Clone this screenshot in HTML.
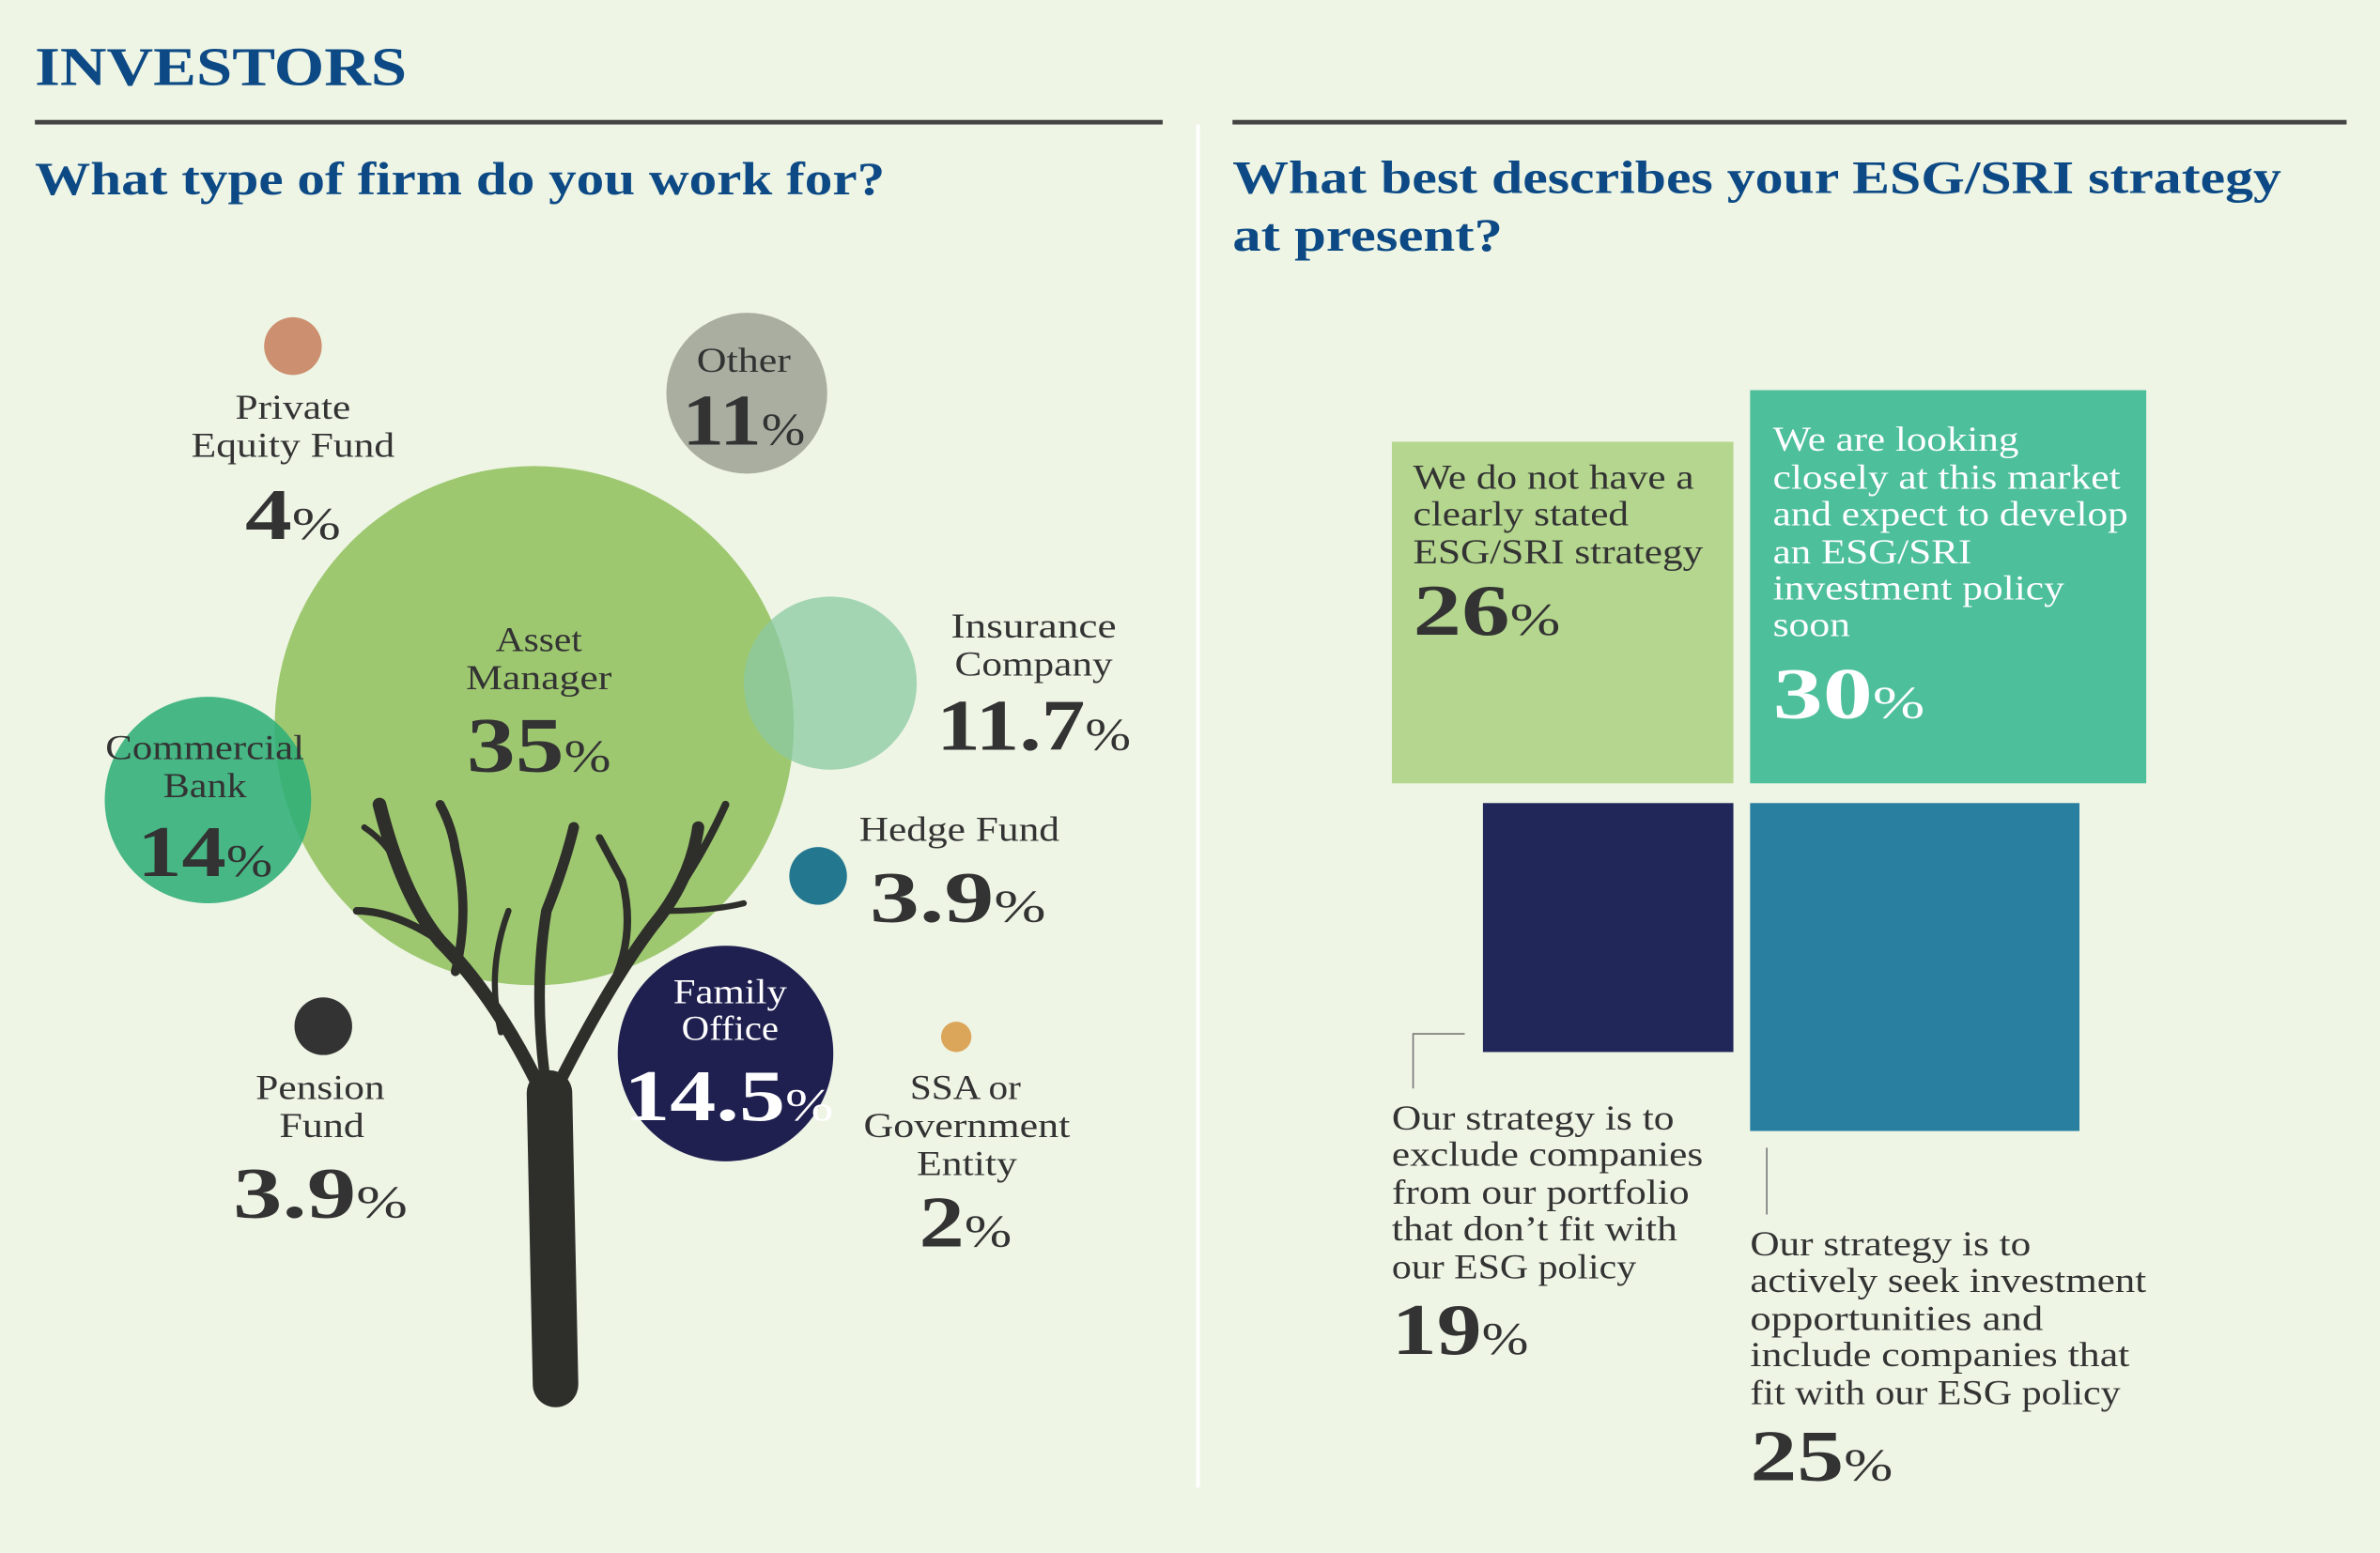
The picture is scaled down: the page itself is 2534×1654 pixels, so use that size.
<!DOCTYPE html>
<html><head><meta charset="utf-8"><style>
html,body{margin:0;padding:0;background:#eef5e5;}
svg{display:block}
text{font-family:"Liberation Serif",serif;fill:#333}
.t{font-size:23px}
.p{font-weight:bold;font-size:48px}
.pc{font-size:30px;font-weight:normal}
.h{fill:#0d4a85;font-weight:bold}
</style></head><body>
<svg width="2534" height="1654" viewBox="0 0 1568 1023" preserveAspectRatio="none" xmlns="http://www.w3.org/2000/svg">
<rect width="1568" height="1023" fill="#eef5e5"/>
<g lengthAdjust="spacingAndGlyphs">
<text x="23" y="56" class="h" font-size="36" textLength="245" lengthAdjust="spacingAndGlyphs">INVESTORS</text>
<text x="23" y="128" class="h" font-size="31" textLength="560" lengthAdjust="spacingAndGlyphs">What type of firm do you work for?</text>
<text x="812" y="127" class="h" font-size="31" textLength="691" lengthAdjust="spacingAndGlyphs">What best describes your ESG/SRI strategy</text>
<text x="812" y="165" class="h" font-size="31" textLength="178" lengthAdjust="spacingAndGlyphs">at present?</text>
</g>
<rect x="23" y="79" width="743" height="3" fill="#444"/>
<rect x="812" y="79" width="734" height="3" fill="#444"/>
<rect x="788" y="82" width="2.5" height="898" fill="#fff"/>

<!-- bubbles -->
<circle cx="193" cy="228" r="19" fill="#cc8f6f"/>
<circle cx="492" cy="259" r="53" fill="#a9aea1"/>
<circle cx="352" cy="478" r="171" fill="#8fbf5c" fill-opacity="0.85"/>
<circle cx="547" cy="450" r="57" fill="#8bcaa2" fill-opacity="0.75"/>
<circle cx="137" cy="527" r="68" fill="#2fae78" fill-opacity="0.88"/>
<circle cx="539" cy="577" r="19" fill="#23788f"/>
<circle cx="213" cy="676" r="19" fill="#333"/>
<circle cx="630" cy="683" r="10" fill="#dba65a"/>

<!-- tree -->
<g fill="none" stroke="#2e2e2a" stroke-linecap="round">
<path d="M366 912 L362 720" stroke-width="30"/>
<path d="M362 730 Q330 660 290 620 Q265 590 250 530" stroke-width="9"/>
<path d="M290 620 Q260 600 235 600" stroke-width="5"/>
<path d="M262 570 Q255 555 240 545" stroke-width="4"/>
<path d="M300 640 Q310 600 300 560 Q298 545 290 530" stroke-width="6"/>
<path d="M362 730 Q350 660 360 600 Q372 570 378 545" stroke-width="7"/>
<path d="M365 720 Q400 650 430 610 Q455 580 460 545" stroke-width="8"/>
<path d="M430 610 Q460 570 478 530" stroke-width="5"/>
<path d="M400 655 Q420 620 410 580 Q402 565 395 552" stroke-width="5"/>
<path d="M440 600 Q470 600 490 595" stroke-width="4"/>
<path d="M330 680 Q320 640 335 600" stroke-width="4"/>
</g>
<circle cx="478" cy="694" r="71" fill="#1f2050"/>

<!-- labels -->
<g class="t" text-anchor="middle">
<text x="193" y="276" textLength="76" lengthAdjust="spacingAndGlyphs">Private</text><text x="193" y="301" textLength="134" lengthAdjust="spacingAndGlyphs">Equity Fund</text>
<text x="490" y="245" textLength="62" lengthAdjust="spacingAndGlyphs">Other</text>
<text x="355" y="429" textLength="57" lengthAdjust="spacingAndGlyphs">Asset</text><text x="355" y="454" textLength="96" lengthAdjust="spacingAndGlyphs">Manager</text>
<text x="681" y="420" textLength="109" lengthAdjust="spacingAndGlyphs">Insurance</text><text x="681" y="445" textLength="104" lengthAdjust="spacingAndGlyphs">Company</text>
<text x="135" y="500" textLength="131" lengthAdjust="spacingAndGlyphs">Commercial</text><text x="135" y="525" textLength="55" lengthAdjust="spacingAndGlyphs">Bank</text>
<text x="632" y="554" textLength="132" lengthAdjust="spacingAndGlyphs">Hedge Fund</text>
<text x="481" y="661" style="fill:#fff" textLength="75" lengthAdjust="spacingAndGlyphs">Family</text><text x="481" y="685" style="fill:#fff" textLength="64" lengthAdjust="spacingAndGlyphs">Office</text>
<text x="211" y="724" textLength="85" lengthAdjust="spacingAndGlyphs">Pension</text><text x="212" y="749" textLength="56" lengthAdjust="spacingAndGlyphs">Fund</text>
<text x="636" y="724" textLength="73" lengthAdjust="spacingAndGlyphs">SSA or</text><text x="637" y="749" textLength="136" lengthAdjust="spacingAndGlyphs">Government</text><text x="637" y="774" textLength="66" lengthAdjust="spacingAndGlyphs">Entity</text>
</g>
<g class="p" text-anchor="middle">
<text x="193" y="355" textLength="63" lengthAdjust="spacingAndGlyphs">4<tspan class="pc">%</tspan></text>
<text x="490" y="293" textLength="81" lengthAdjust="spacingAndGlyphs">11<tspan class="pc">%</tspan></text>
<text x="355" y="508" font-size="52" textLength="95" lengthAdjust="spacingAndGlyphs">35<tspan class="pc">%</tspan></text>
<text x="681" y="494" textLength="128" lengthAdjust="spacingAndGlyphs">11.7<tspan class="pc">%</tspan></text>
<text x="135" y="577" textLength="89" lengthAdjust="spacingAndGlyphs">14<tspan class="pc">%</tspan></text>
<text x="631" y="607" textLength="116" lengthAdjust="spacingAndGlyphs">3.9<tspan class="pc">%</tspan></text>
<text x="480" y="738" style="fill:#fff" textLength="138" lengthAdjust="spacingAndGlyphs">14.5<tspan class="pc" style="fill:#fff">%</tspan></text>
<text x="211" y="802" textLength="115" lengthAdjust="spacingAndGlyphs">3.9<tspan class="pc">%</tspan></text>
<text x="636" y="821" textLength="61" lengthAdjust="spacingAndGlyphs">2<tspan class="pc">%</tspan></text>
</g>

<!-- right -->
<rect x="917" y="291" width="225" height="225" fill="#b4d68e"/>
<rect x="1153" y="257" width="261" height="259" fill="#4dbf9a"/>
<rect x="977" y="529" width="165" height="164" fill="#212759"/>
<rect x="1153" y="529" width="217" height="216" fill="#287fa0"/>
<path d="M931 717 V681 H965" stroke="#777" fill="none" stroke-width="1"/>
<path d="M1164 756 V800" stroke="#777" fill="none" stroke-width="1"/>
<g class="t">
<text x="931" y="322" textLength="185" lengthAdjust="spacingAndGlyphs">We do not have a</text><text x="931" y="346" textLength="142" lengthAdjust="spacingAndGlyphs">clearly stated</text><text x="931" y="371" textLength="191" lengthAdjust="spacingAndGlyphs">ESG/SRI strategy</text>
<text x="1168" y="297" style="fill:#fff" textLength="162" lengthAdjust="spacingAndGlyphs">We are looking</text><text x="1168" y="322" style="fill:#fff" textLength="229" lengthAdjust="spacingAndGlyphs">closely at this market</text><text x="1168" y="346" style="fill:#fff" textLength="234" lengthAdjust="spacingAndGlyphs">and expect to develop</text><text x="1168" y="371" style="fill:#fff" textLength="131" lengthAdjust="spacingAndGlyphs">an ESG/SRI</text><text x="1168" y="395" style="fill:#fff" textLength="192" lengthAdjust="spacingAndGlyphs">investment policy</text><text x="1168" y="419" style="fill:#fff" textLength="51" lengthAdjust="spacingAndGlyphs">soon</text>
<text x="917" y="744" textLength="186" lengthAdjust="spacingAndGlyphs">Our strategy is to</text><text x="917" y="768" textLength="205" lengthAdjust="spacingAndGlyphs">exclude companies</text><text x="917" y="793" textLength="196" lengthAdjust="spacingAndGlyphs">from our portfolio</text><text x="917" y="817" textLength="188" lengthAdjust="spacingAndGlyphs">that don’t fit with</text><text x="917" y="842" textLength="161" lengthAdjust="spacingAndGlyphs">our ESG policy</text>
<text x="1153" y="827" textLength="185" lengthAdjust="spacingAndGlyphs">Our strategy is to</text><text x="1153" y="851" textLength="261" lengthAdjust="spacingAndGlyphs">actively seek investment</text><text x="1153" y="876" textLength="193" lengthAdjust="spacingAndGlyphs">opportunities and</text><text x="1153" y="900" textLength="250" lengthAdjust="spacingAndGlyphs">include companies that</text><text x="1153" y="925" textLength="244" lengthAdjust="spacingAndGlyphs">fit with our ESG policy</text>
</g>
<g class="p">
<text x="931" y="418" textLength="97" lengthAdjust="spacingAndGlyphs">26<tspan class="pc">%</tspan></text>
<text x="1168" y="473" style="fill:#fff" textLength="100" lengthAdjust="spacingAndGlyphs">30<tspan class="pc" style="fill:#fff">%</tspan></text>
<text x="917" y="892" textLength="90" lengthAdjust="spacingAndGlyphs">19<tspan class="pc">%</tspan></text>
<text x="1153" y="975" textLength="94" lengthAdjust="spacingAndGlyphs">25<tspan class="pc">%</tspan></text>
</g>
</svg>
</body></html>
